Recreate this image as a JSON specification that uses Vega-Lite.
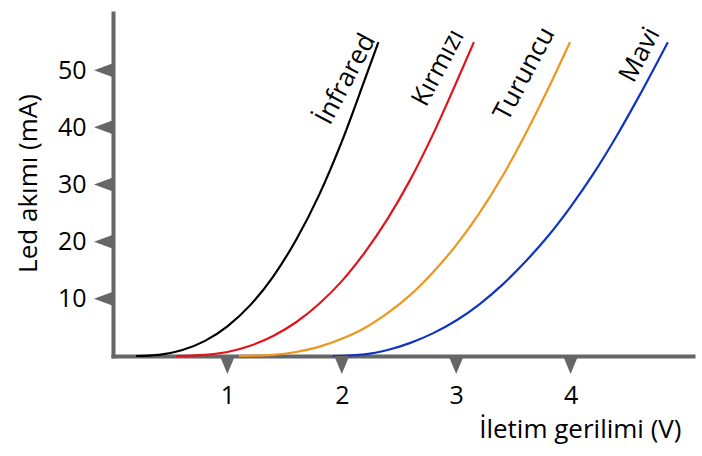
{
  "$schema": "https://vega.github.io/schema/vega-lite/v6.json",
  "width": 580,
  "height": 343,
  "padding": {"left": 113, "top": 13, "right": 9, "bottom": 100},
  "autosize": {"type": "none"},
  "background": "white",
  "config": {
    "view": {"stroke": null},
    "font": "Open Sans",
    "axis": {
      "grid": false,
      "ticks": false,
      "domainColor": "#666666",
      "domainWidth": 4,
      "domainCap": "square",
      "labelFont": "Open Sans",
      "labelFontSize": 25,
      "labelColor": "#000000",
      "titleFont": "Open Sans",
      "titleFontSize": 26,
      "titleFontWeight": "normal",
      "titleColor": "#000000"
    }
  },
  "datasets": {
    "curves": [
      {"seri": "İnfrared", "V": 0.2, "I": 0},
      {"seri": "İnfrared", "V": 0.4, "I": 0.2},
      {"seri": "İnfrared", "V": 0.6, "I": 1.0},
      {"seri": "İnfrared", "V": 0.8, "I": 2.6},
      {"seri": "İnfrared", "V": 1.0, "I": 5.2},
      {"seri": "İnfrared", "V": 1.2, "I": 8.9},
      {"seri": "İnfrared", "V": 1.4, "I": 13.9},
      {"seri": "İnfrared", "V": 1.6, "I": 20.3},
      {"seri": "İnfrared", "V": 1.8, "I": 28.1},
      {"seri": "İnfrared", "V": 2.0, "I": 37.5},
      {"seri": "İnfrared", "V": 2.2, "I": 48.3},
      {"seri": "İnfrared", "V": 2.32, "I": 54.9},
      {"seri": "Kırmızı", "V": 0.55, "I": 0},
      {"seri": "Kırmızı", "V": 0.8, "I": 0.2},
      {"seri": "Kırmızı", "V": 1.0, "I": 0.7},
      {"seri": "Kırmızı", "V": 1.2, "I": 1.8},
      {"seri": "Kırmızı", "V": 1.4, "I": 3.5},
      {"seri": "Kırmızı", "V": 1.6, "I": 5.9},
      {"seri": "Kırmızı", "V": 1.8, "I": 9.1},
      {"seri": "Kırmızı", "V": 2.0, "I": 13.1},
      {"seri": "Kırmızı", "V": 2.2, "I": 18.1},
      {"seri": "Kırmızı", "V": 2.4, "I": 24.0},
      {"seri": "Kırmızı", "V": 2.6, "I": 30.9},
      {"seri": "Kırmızı", "V": 2.8, "I": 38.9},
      {"seri": "Kırmızı", "V": 3.0, "I": 47.8},
      {"seri": "Kırmızı", "V": 3.155, "I": 54.9},
      {"seri": "Turuncu", "V": 1.1, "I": 0},
      {"seri": "Turuncu", "V": 1.4, "I": 0.2},
      {"seri": "Turuncu", "V": 1.6, "I": 0.7},
      {"seri": "Turuncu", "V": 1.8, "I": 1.6},
      {"seri": "Turuncu", "V": 2.0, "I": 3.0},
      {"seri": "Turuncu", "V": 2.2, "I": 4.9},
      {"seri": "Turuncu", "V": 2.4, "I": 7.5},
      {"seri": "Turuncu", "V": 2.6, "I": 10.7},
      {"seri": "Turuncu", "V": 2.8, "I": 14.7},
      {"seri": "Turuncu", "V": 3.0, "I": 19.4},
      {"seri": "Turuncu", "V": 3.2, "I": 24.9},
      {"seri": "Turuncu", "V": 3.4, "I": 31.3},
      {"seri": "Turuncu", "V": 3.6, "I": 38.6},
      {"seri": "Turuncu", "V": 3.8, "I": 46.6},
      {"seri": "Turuncu", "V": 3.995, "I": 54.9},
      {"seri": "Mavi", "V": 1.92, "I": 0},
      {"seri": "Mavi", "V": 2.2, "I": 0.3},
      {"seri": "Mavi", "V": 2.4, "I": 1.05},
      {"seri": "Mavi", "V": 2.6, "I": 2.3},
      {"seri": "Mavi", "V": 2.8, "I": 4.0},
      {"seri": "Mavi", "V": 3.0, "I": 6.2},
      {"seri": "Mavi", "V": 3.2, "I": 9.0},
      {"seri": "Mavi", "V": 3.4, "I": 12.4},
      {"seri": "Mavi", "V": 3.6, "I": 16.4},
      {"seri": "Mavi", "V": 3.8, "I": 20.9},
      {"seri": "Mavi", "V": 4.0, "I": 26.1},
      {"seri": "Mavi", "V": 4.2, "I": 31.9},
      {"seri": "Mavi", "V": 4.4, "I": 38.4},
      {"seri": "Mavi", "V": 4.6, "I": 45.5},
      {"seri": "Mavi", "V": 4.85, "I": 54.9}
    ],
    "labels": [
      {"seri": "İnfrared", "V": 1.895, "I": 40.2},
      {"seri": "Kırmızı", "V": 2.735, "I": 43.4},
      {"seri": "Turuncu", "V": 3.45, "I": 40.9},
      {"seri": "Mavi", "V": 4.55, "I": 47.6}
    ],
    "xticks": [{"V": 1, "I": 0}, {"V": 2, "I": 0}, {"V": 3, "I": 0}, {"V": 4, "I": 0}],
    "yticks": [{"V": 0, "I": 10}, {"V": 0, "I": 20}, {"V": 0, "I": 30}, {"V": 0, "I": 40}, {"V": 0, "I": 50}]
  },
  "encoding": {
    "x": {
      "field": "V",
      "type": "quantitative",
      "scale": {"domain": [0, 5.07], "nice": false, "zero": false},
      "axis": {
        "values": [1, 2, 3, 4],
        "title": "İletim gerilimi (V)",
        "labelBaseline": "alphabetic",
        "labelPadding": 47,
        "titleAnchor": null,
        "titleAlign": "right",
        "titleBaseline": "alphabetic",
        "titleX": 568,
        "titleY": 81
      }
    },
    "y": {
      "field": "I",
      "type": "quantitative",
      "scale": {"domain": [0, 60], "nice": false},
      "axis": {
        "values": [10, 20, 30, 40, 50],
        "title": "Led akımı (mA)",
        "labelPadding": 27,
        "titleAnchor": null,
        "titleAlign": "center",
        "titleBaseline": "alphabetic",
        "titleAngle": 270,
        "titleX": -77,
        "titleY": 170
      }
    }
  },
  "layer": [
    {
      "data": {"name": "curves"},
      "mark": {"type": "line", "strokeWidth": 2.2, "interpolate": "monotone"},
      "encoding": {
        "color": {
          "field": "seri",
          "type": "nominal",
          "scale": {
            "domain": ["İnfrared", "Kırmızı", "Turuncu", "Mavi"],
            "range": ["#000000", "#e3131c", "#ef951c", "#0f34c2"]
          },
          "legend": null
        }
      }
    },
    {
      "data": {"name": "labels"},
      "mark": {
        "type": "text",
        "angle": 298,
        "align": "left",
        "baseline": "alphabetic",
        "font": "Open Sans",
        "fontSize": 26,
        "color": "#000000"
      },
      "encoding": {"text": {"field": "seri"}}
    },
    {
      "data": {"name": "xticks"},
      "mark": {
        "type": "point",
        "shape": "M -1.5,0 L 1.5,0 L 0,3.6 Z",
        "size": 100,
        "filled": true,
        "color": "#666666",
        "opacity": 1,
        "strokeWidth": 0
      }
    },
    {
      "data": {"name": "yticks"},
      "mark": {
        "type": "point",
        "shape": "M 0,-1.4 L 0,1.4 L -3.8,0 Z",
        "size": 100,
        "filled": true,
        "color": "#666666",
        "opacity": 1,
        "strokeWidth": 0
      }
    }
  ]
}
